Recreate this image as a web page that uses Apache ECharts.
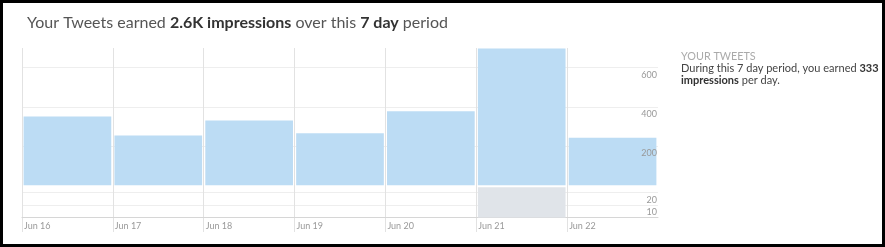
<!DOCTYPE html>
<html>
<head>
<meta charset="utf-8">
<script src="https://cdn.jsdelivr.net/npm/echarts@6/dist/echarts.min.js"></script>
<style>
html,body{margin:0;padding:0;background:#fff;}
#chart{position:absolute;left:0;top:0;width:885px;height:247px;}
#frame{position:absolute;left:0;top:0;width:885px;height:247px;box-sizing:border-box;border:3px solid #000;pointer-events:none;}
</style>
</head>
<body>
<div id="chart"></div>
<div id="frame"></div>
<script>
const days = ['Jun 16', 'Jun 17', 'Jun 18', 'Jun 19', 'Jun 20', 'Jun 21', 'Jun 22'];
const impressions = [351, 254, 330, 266, 378, 697, 242];
const engagements = [0, 0, 0, 0, 0, 24, 0];
const impressionTicks = [200, 400, 600];
const engagementTicks = [10, 20];

const FONT = 'Lato, "Open Sans", sans-serif';
const chart = echarts.init(document.getElementById('chart'), null, {renderer: 'canvas'});

const gl = 22, gw = 636;
const labelStyle = {inside: true, margin: 1, fontSize: 9, color: '#999', fontFamily: FONT, verticalAlign: 'top', padding: [3, 0, 0, 0]};
chart.setOption({
  animation: false,
  textStyle: {fontFamily: FONT},
  title: [{
    left: 22, top: 10,
    text: '{r|Your Tweets earned }{b|2.6K impressions}{r| over this }{b|7 day}{r| period}',
    textStyle: {
      fontWeight: 'normal',
      rich: {
        r: {fontFamily: FONT, fontSize: 16, color: '#555', fontWeight: 'normal'},
        b: {fontFamily: FONT, fontSize: 16, color: '#333', fontWeight: 'bold'}
      }
    }
  }, {
    left: 681, top: 50, padding: 0,
    text: '{h|YOUR TWEETS}\n{r|During this 7 day period, you earned }{b|333}\n{b|impressions}{r| per day.}',
    textStyle: {
      fontWeight: 'normal',
      rich: {
        h: {fontFamily: FONT, fontSize: 10.8, color: '#aaa', lineHeight: 12.3, fontWeight: 'normal'},
        r: {fontFamily: FONT, fontSize: 11, color: '#444', lineHeight: 12.3, fontWeight: 'normal'},
        b: {fontFamily: FONT, fontSize: 11, color: '#333', fontWeight: 'bold', lineHeight: 12.3}
      }
    }
  }],
  grid: [
    {left: gl, width: gw, top: 48, height: 137.3},
    {left: gl, width: gw, top: 186, height: 31.5},
    {left: gl, width: gw, top: 48, height: 184}
  ],
  xAxis: [
    {gridIndex: 0, type: 'category', data: days, boundaryGap: true,
     axisLine: {show: false}, axisTick: {show: false}, axisLabel: {show: false}, splitLine: {show: false}},
    {gridIndex: 1, type: 'category', data: days, boundaryGap: true,
     axisLine: {show: true, lineStyle: {color: '#d6d6d6', width: 1}}, axisTick: {show: false}, axisLabel: {show: false}, splitLine: {show: false}},
    {gridIndex: 2, type: 'category', data: days.concat(['']), boundaryGap: false, offset: -14.5,
     axisLine: {show: false}, axisTick: {show: false},
     axisLabel: {show: true, align: 'left', margin: 4, fontSize: 9, color: '#999', fontFamily: FONT, padding: [0, 0, 0, 2], interval: 0},
     splitLine: {show: true, interval: (i) => i < days.length, lineStyle: {color: '#e2e2e2', width: 1}}, z: 0}
  ],
  yAxis: [
    {gridIndex: 0, type: 'value', min: 0, max: 700, interval: 200, position: 'right', z: 0,
     axisLine: {show: false}, axisTick: {show: false}, axisLabel: {show: false},
     splitLine: {show: true, showMinLine: false, showMaxLine: false, lineStyle: {color: '#eeeeee', width: 1}}},
    {gridIndex: 1, type: 'value', min: 0, max: 25, interval: 10, position: 'right', z: 0,
     axisLine: {show: false}, axisTick: {show: false}, axisLabel: {show: false},
     splitLine: {show: true, showMinLine: false, showMaxLine: false, lineStyle: {color: '#eeeeee', width: 1}}},
    {gridIndex: 2, type: 'value', show: false, min: 0, max: 1, splitLine: {show: false}},
    {gridIndex: 0, type: 'value', min: 0, max: 700, interval: 200, position: 'right', z: 10,
     axisLine: {show: false}, axisTick: {show: false}, splitLine: {show: false},
     axisLabel: Object.assign({}, labelStyle, {formatter: (v) => impressionTicks.includes(v) ? String(v) : ''})},
    {gridIndex: 1, type: 'value', min: 0, max: 25, interval: 10, position: 'right', z: 10,
     axisLine: {show: false}, axisTick: {show: false}, splitLine: {show: false},
     axisLabel: Object.assign({}, labelStyle, {formatter: (v) => engagementTicks.includes(v) ? String(v) : ''})}
  ],
  series: [
    {type: 'bar', xAxisIndex: 0, yAxisIndex: 0, data: impressions, barWidth: '96.5%',
     itemStyle: {color: '#bcdcf4'}, z: 3, silent: true},
    {type: 'bar', xAxisIndex: 1, yAxisIndex: 1, data: engagements, barWidth: '96.5%',
     itemStyle: {color: '#e0e4e9'}, z: 3, silent: true}
  ]
});
</script>
</body>
</html>
